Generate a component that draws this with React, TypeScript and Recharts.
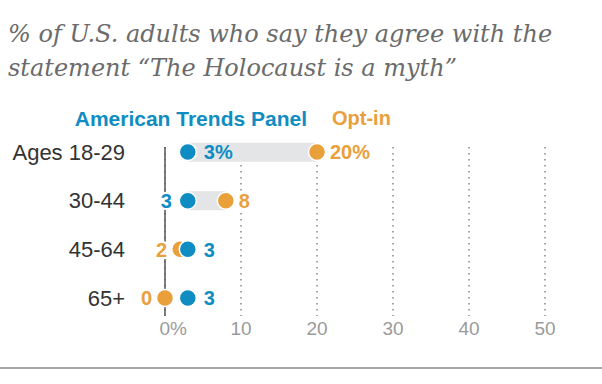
import React from 'react';
import { ComposedChart, Bar, Line, XAxis, YAxis, CartesianGrid, ReferenceLine, LabelList } from 'recharts';

const ages = ['Ages 18-29', '30-44', '45-64', '65+'];
const atpValues = [3, 3, 3, 3];
const optInValues = [20, 8, 2, 0];
const xTicks = [0, 10, 20, 30, 40, 50];

const BLUE = '#0f8dc2';
const ORANGE = '#e9a03b';
const SANS = '"Liberation Sans", Arial, sans-serif';

const data = ages.map((age, i) => ({
  age,
  atp: atpValues[i],
  opt: optInValues[i],
  // gray connector only where opt-in is above the panel
  range: optInValues[i] > atpValues[i] ? [atpValues[i], optInValues[i]] : null,
}));

const makeLabel = (series: 'atp' | 'opt') => (props: any) => {
  const { x, y, index, value } = props;
  if (x == null || y == null) return null;
  const row = data[index];
  const up = row.opt > row.atp;
  let right: boolean;
  if (series === 'opt') right = up;
  else right = index === 0 ? true : !up;
  const text = index === 0 ? `${value}%` : `${value}`;
  const gap = series === 'atp' ? 16 : 13;
  return (
    <text
      x={right ? x + gap : x - gap}
      y={y}
      dy="0.36em"
      textAnchor={right ? 'start' : 'end'}
      fill={series === 'atp' ? BLUE : ORANGE}
      stroke={index === 0 ? 'none' : '#fff'}
      strokeWidth={4}
      paintOrder="stroke"
      fontFamily={SANS}
      fontWeight={700}
      fontSize={20}
    >
      {text}
    </text>
  );
};

const XTick = (props: any) => {
  const { x, y, payload } = props;
  const zero = payload.value === 0;
  return (
    <text
      x={zero ? x - 5.5 : x}
      y={y}
      dy="0.71em"
      textAnchor={zero ? 'start' : 'middle'}
      fill="#9a9a9a"
      fontFamily={SANS}
      fontSize={19}
    >
      {zero ? '0%' : payload.value}
    </text>
  );
};

const App: React.FC = () => {
  return (
    <div style={{ position: 'absolute', left: 0, top: 0, width: 602, height: 384, background: '#fff', overflow: 'hidden' }}>
      <ComposedChart
        width={602}
        height={384}
        data={data}
        layout="vertical"
        margin={{ top: 147, right: 57, bottom: 38, left: 0 }}
      >
        <CartesianGrid horizontal={false} stroke="#8a8a8a" strokeWidth={1.5} strokeDasharray="1.5 4.5" />
        <XAxis
          type="number"
          domain={[0, 50]}
          ticks={xTicks}
          axisLine={false}
          tickLine={false}
          tickSize={0}
          tickMargin={6}
          height={30}
          tick={<XTick />}
        />
        <YAxis
          type="category"
          dataKey="age"
          scale="point"
          padding={{ top: 5, bottom: 18 }}
          width={165}
          axisLine={false}
          tickLine={false}
          tickSize={0}
          tickMargin={40}
          tick={{ fill: '#333', fontSize: 22, fontFamily: SANS }}
        />
        <ReferenceLine x={0} stroke="#555" strokeWidth={1.5} />
        <Bar dataKey="range" fill="#e4e5e7" barSize={19} isAnimationActive={false} />
        <Line
          dataKey="opt"
          stroke="none"
          dot={{ r: 8.5, fill: ORANGE, stroke: '#fff', strokeWidth: 1.5, fillOpacity: 1 }}
          activeDot={false}
          isAnimationActive={false}
        >
          <LabelList dataKey="opt" content={makeLabel('opt')} />
        </Line>
        <Line
          dataKey="atp"
          stroke="none"
          dot={{ r: 8.5, fill: BLUE, stroke: '#fff', strokeWidth: 1.5, fillOpacity: 1 }}
          activeDot={false}
          isAnimationActive={false}
        >
          <LabelList dataKey="atp" content={makeLabel('atp')} />
        </Line>
      </ComposedChart>

      <div
        style={{
          position: 'absolute',
          left: 8,
          top: 17,
          width: 594,
          fontFamily: '"DejaVu Serif", Georgia, serif',
          fontStyle: 'italic',
          fontSize: 24,
          lineHeight: '34px',
          color: '#6b6b6b',
          whiteSpace: 'nowrap',
        }}
      >
        % of U.S. adults who say they agree with the
        <br />
        statement “The Holocaust is a myth”
      </div>

      <div
        style={{
          position: 'absolute',
          right: 602 - 307,
          top: 107,
          fontFamily: SANS,
          fontWeight: 700,
          fontSize: 21,
          color: BLUE,
          whiteSpace: 'nowrap',
        }}
      >
        American Trends Panel
      </div>
      <div
        style={{
          position: 'absolute',
          left: 332,
          top: 107,
          fontFamily: SANS,
          fontWeight: 700,
          fontSize: 20,
          color: ORANGE,
          whiteSpace: 'nowrap',
        }}
      >
        Opt-in
      </div>

      <div style={{ position: 'absolute', left: 0, top: 367, width: 602, height: 1.5, background: '#a8a8a8' }} />
    </div>
  );
};

export default App;
